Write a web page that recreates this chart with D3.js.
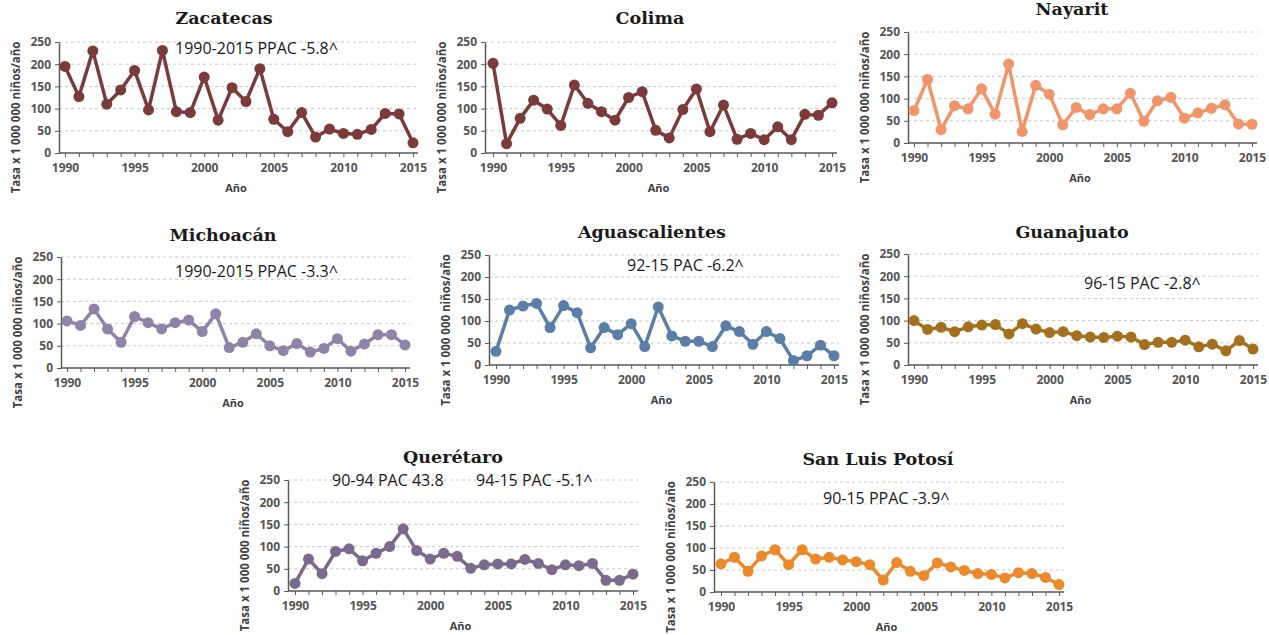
<!DOCTYPE html>
<html>
<head>
<meta charset="utf-8">
<script src="https://cdn.jsdelivr.net/npm/d3@7"></script>
<style>
  body { margin: 0; background: #fff; }
  svg { display: block; }
  .tick text { font-family: "Open Sans", sans-serif; font-weight: 700; fill: #555; }
</style>
</head>
<body>
<div id="chart"></div>
<script>
const years = d3.range(1990, 2016);
const yTicks = [0, 50, 100, 150, 200, 250];

const zacatecas = [195,127,230,110,142,186,97,231,93,91,171,74,147,116,190,76,48,91,36,54,44,42,53,89,88,23];
const colima = [202,21,78,119,99,62,153,112,93,74,125,138,51,34,98,144,48,108,31,44,30,59,30,87,85,113];
const nayarit = [73,143,30,84,77,122,65,178,26,130,110,41,80,64,77,77,112,49,95,103,56,68,78,86,43,42];
const michoacan = [106,96,133,88,58,116,102,88,102,108,82,122,46,58,77,50,39,55,36,44,66,38,54,75,75,52];
const aguascalientes = [31,125,134,140,85,135,119,39,85,69,94,42,132,66,54,54,42,89,76,47,76,60,10,21,45,21];
const guanajuato = [100,80,85,75,86,90,91,70,93,81,73,75,66,63,62,65,63,46,51,51,56,41,47,32,55,36];
const queretaro = [17,72,39,89,95,68,85,100,140,91,72,85,78,51,59,61,61,71,62,48,59,57,62,24,24,38];
const sanLuis = [64,79,47,82,96,62,96,75,79,73,69,62,27,67,47,37,66,57,49,42,40,32,44,42,33,17];

// layout of each small panel (axis position, first/last point, y of 0 and 250)
const panels = [
  { name: "Zacatecas", values: zacatecas, color: "#7a3b3a", ax: 59, x0: 65, x1: 413, y0: 153, y1: 42, tx: 224, ty: 24,
    notes: [{ text: "1990-2015 PPAC -5.8^", x: 175, y: 54 }] },
  { name: "Colima", values: colima, color: "#7a3b3a", ax: 485, x0: 493, x1: 832, y0: 153, y1: 42, tx: 650, ty: 24, notes: [] },
  { name: "Nayarit", values: nayarit, color: "#f0946a", ax: 908, x0: 914, x1: 1252, y0: 143, y1: 32, tx: 1072, ty: 15, notes: [] },
  { name: "Michoacán", values: michoacan, color: "#9083a8", ax: 61, x0: 67, x1: 405, y0: 368, y1: 257, tx: 223, ty: 241,
    notes: [{ text: "1990-2015 PPAC -3.3^", x: 175, y: 277 }] },
  { name: "Aguascalientes", values: aguascalientes, color: "#5a7ea8", ax: 489, x0: 496, x1: 834, y0: 365, y1: 255, tx: 652, ty: 238,
    notes: [{ text: "92-15 PAC -6.2^", x: 627, y: 271 }] },
  { name: "Guanajuato", values: guanajuato, color: "#a5701e", ax: 908, x0: 914, x1: 1253, y0: 365, y1: 254, tx: 1072, ty: 238,
    notes: [{ text: "96-15 PAC -2.8^", x: 1084, y: 289 }] },
  { name: "Querétaro", values: queretaro, color: "#7b6a8e", ax: 288, x0: 295, x1: 633, y0: 591, y1: 480, tx: 453, ty: 463,
    notes: [{ text: "90-94 PAC 43.8", x: 332, y: 486 }, { text: "94-15 PAC -5.1^", x: 476, y: 486 }] },
  { name: "San Luis Potosí", values: sanLuis, color: "#ea8a2c", ax: 714, x0: 721, x1: 1059, y0: 592, y1: 482, tx: 878, ty: 465,
    notes: [{ text: "90-15 PPAC -3.9^", x: 823, y: 504 }] }
];

const width = 1269, height = 635;
const svg = d3.select("#chart").append("svg")
  .attr("width", width)
  .attr("height", height);

panels.forEach(p => {
  const g = svg.append("g");
  const x = d3.scaleLinear().domain([1990, 2015]).range([p.x0, p.x1]);
  const y = d3.scaleLinear().domain([0, 250]).range([p.y0, p.y1]);
  const right = p.x1 + 5;

  // gridlines
  g.selectAll(".grid")
    .data(yTicks.filter(d => d > 0))
    .join("line")
    .attr("x1", p.ax).attr("x2", right)
    .attr("y1", d => y(d)).attr("y2", d => y(d))
    .attr("stroke", "#c8c8c8")
    .attr("stroke-width", 1)
    .attr("stroke-dasharray", "3,3");

  // y axis
  const yAxis = g.append("g")
    .attr("transform", `translate(${p.ax},0)`)
    .call(d3.axisLeft(y).tickValues(yTicks).tickSize(4).tickSizeOuter(0).tickPadding(4));
  yAxis.select(".domain").attr("stroke", "#595959").attr("stroke-width", 1.5);
  yAxis.selectAll(".tick line").attr("stroke", "#595959");
  yAxis.selectAll(".tick text").style("font-size", "12px");

  // x axis
  const xAxis = g.append("g")
    .attr("transform", `translate(0,${p.y0})`)
    .call(d3.axisBottom(x).tickValues(years).tickSize(4).tickPadding(6)
      .tickFormat(d => d % 5 === 0 ? d : ""));
  xAxis.select(".domain").remove();
  xAxis.append("line")
    .attr("x1", p.ax).attr("x2", right)
    .attr("stroke", "#595959").attr("stroke-width", 1.5);
  xAxis.selectAll(".tick line").attr("stroke", "#595959");
  xAxis.selectAll(".tick text").style("font-size", "12px");

  // axis titles
  g.append("text")
    .attr("x", (p.ax + p.x1) / 2)
    .attr("y", p.y0 + 39)
    .attr("text-anchor", "middle")
    .style("font-family", "'Open Sans', sans-serif")
    .style("font-weight", 700)
    .style("font-size", "11px")
    .style("fill", "#404040")
    .text("Año");

  g.append("text")
    .attr("transform", `translate(${p.ax - 39},${(p.y0 + p.y1) / 2 + 20}) rotate(-90)`)
    .attr("text-anchor", "middle")
    .style("font-family", "'Open Sans', sans-serif")
    .style("font-weight", 700)
    .style("font-size", "11.5px")
    .style("fill", "#404040")
    .text("Tasa x 1 000 000 niños/año");

  // title
  g.append("text")
    .attr("x", p.tx).attr("y", p.ty)
    .attr("text-anchor", "middle")
    .style("font-family", "'DejaVu Serif', serif")
    .style("font-weight", 700)
    .style("font-size", "17.5px")
    .style("fill", "#1a1a1a")
    .text(p.name);

  // annotations
  p.notes.forEach(n => {
    g.append("text")
      .attr("x", n.x).attr("y", n.y)
      .style("font-family", "'Open Sans', sans-serif")
      .style("font-size", "16px")
      .style("fill", "#1a1a1a")
      .text(n.text);
  });

  // series
  const line = d3.line().x((d, i) => x(years[i])).y(d => y(d));
  g.append("path")
    .datum(p.values)
    .attr("fill", "none")
    .attr("stroke", p.color)
    .attr("stroke-width", 3.5)
    .attr("stroke-linejoin", "round")
    .attr("d", line);

  g.selectAll(".pt")
    .data(p.values)
    .join("circle")
    .attr("cx", (d, i) => x(years[i]))
    .attr("cy", d => y(d))
    .attr("r", 5.5)
    .attr("fill", p.color);
});
</script>
</body>
</html>
